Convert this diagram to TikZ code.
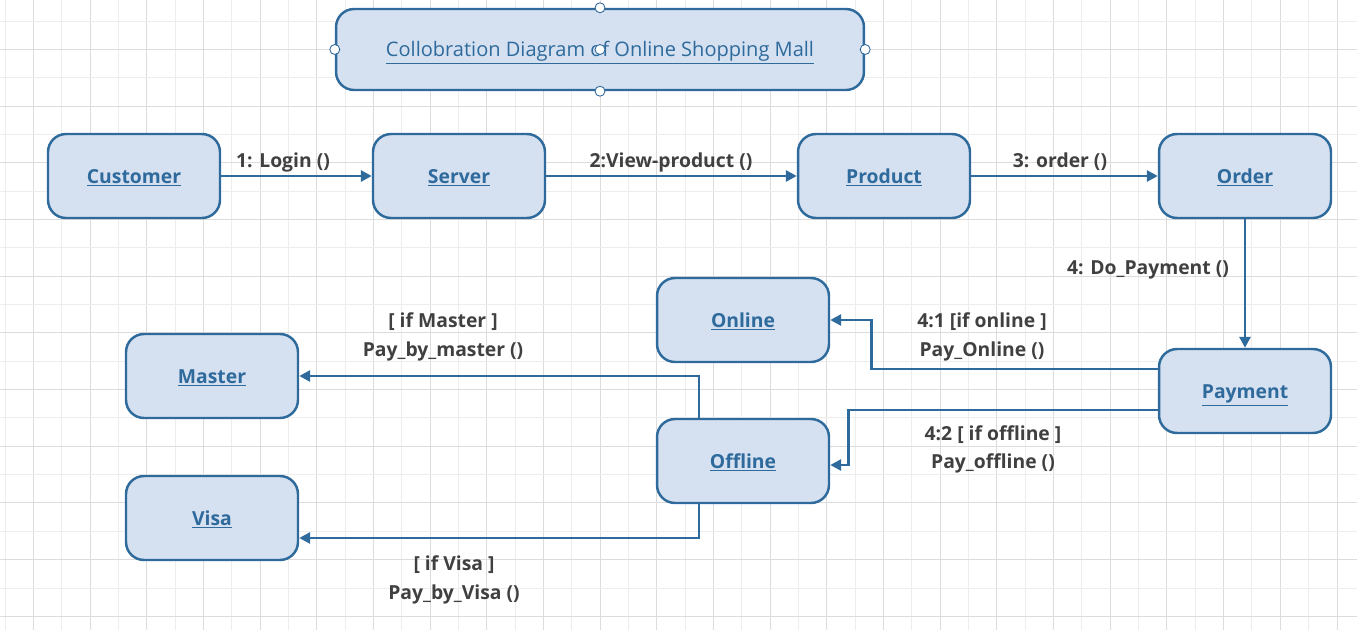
\documentclass[tikz,border=0pt]{standalone}
\usepackage{fontspec}
\setmainfont{Open Sans}
\usetikzlibrary{positioning, arrows.meta, calc}

\definecolor{umlblue}{HTML}{2E6A9C}
\definecolor{umlfill}{HTML}{D5E0F0}
\definecolor{msgtext}{HTML}{404040}
\definecolor{gridmajor}{HTML}{DCDCDC}
\definecolor{gridminor}{HTML}{EDEDED}

\begin{document}
\begin{tikzpicture}[x=0.02cm, y=-0.02cm,
    object/.style={rectangle, draw=umlblue, fill=umlfill, line width=1.4pt, rounded corners=0.36cm, minimum width=3.44cm, minimum height=1.68cm, text height=0.28cm, text depth=0pt, text=umlblue, font=\fontsize{11}{13}\selectfont\bfseries},
    titlebox/.style={rectangle, draw=umlblue, fill=umlfill, line width=1.4pt, rounded corners=0.36cm, minimum width=10.56cm, minimum height=1.62cm, text height=0.28cm, text depth=0pt, text=umlblue, font=\fontsize{11.4}{13}\selectfont},
    handle/.style={circle, draw=umlblue, fill=white, line width=0.5pt, minimum size=0.2cm, inner sep=0pt},
    msg/.style={align=center, text=msgtext, font=\fontsize{11}{16.4}\selectfont\bfseries},
    link/.style={draw=umlblue, line width=1.6pt, -{Triangle[length=0.22cm, width=0.22cm]}}
]

    % Grid
    \useasboundingbox (0,0) rectangle (1357,630);
    \foreach \i in {0,...,23} {
        \draw[gridminor, line width=0.5pt] (4.96+56.68*\i, 0) -- (4.96+56.68*\i, 630);
        \draw[gridmajor, line width=0.5pt] (33.3+56.68*\i, 0) -- (33.3+56.68*\i, 630);
    }
    \foreach \j in {0,...,10} {
        \draw[gridminor, line width=0.5pt] (0, 21+56.7*\j) -- (1357, 21+56.7*\j);
        \draw[gridmajor, line width=0.5pt] (0, 49.3+56.7*\j) -- (1357, 49.3+56.7*\j);
    }

    % Title
    \node[titlebox] (title) at (600, 49.5) {\underline{Collobration Diagram of Online Shopping Mall}};
    \node[handle] (htop) at (title.north) {};
    \node[handle] (hbottom) at (title.south) {};
    \node[handle] (hleft) at (title.west) {};
    \node[handle] (hright) at (title.east) {};
    \node[handle] (hcenter) at (title.center) {};

    % Objects
    \node[object] (customer) at (134, 176) {\underline{Customer}};
    \node[object] (server) at (459, 176) {\underline{Server}};
    \node[object] (product) at (884, 176) {\underline{Product}};
    \node[object] (order) at (1245, 176) {\underline{Order}};
    \node[object] (online) at (743, 320) {\underline{Online}};
    \node[object] (master) at (212, 376) {\underline{Master}};
    \node[object] (payment) at (1245, 391) {\underline{Payment}};
    \node[object] (offline) at (743, 461) {\underline{Offline}};
    \node[object] (visa) at (212, 518) {\underline{Visa}};

    % Links
    \draw[link] (customer) -- (server);
    \draw[link] (server) -- (product);
    \draw[link] (product) -- (order);
    \draw[link] (order) -- (payment);
    \draw[link] ([yshift=0.44cm]payment.west) -| ($(online.east)+(41,0)$) -- (online.east);
    \draw[link] ([yshift=-0.38cm]payment.west) -| ($(offline.east)+(18,4)$) -- ($(offline.east)+(0,4)$);
    \draw[link] ([xshift=-0.88cm]offline.north) |- (master.east);
    \draw[link] ([xshift=-0.88cm]offline.south) |- ([yshift=-0.4cm]visa.east);

    % Messages
    \node[msg] (mlogin) at (283, 162) {1: Login ()};
    \node[msg] (mview) at (671, 162) {2:View-product ()};
    \node[msg] (morder) at (1060, 162) {3: order ()};
    \node[msg] (mpay) at (1148, 270) {4: Do\_Payment ()};
    \node[msg] (monline) at (982, 337) {4:1 [if online ]\\Pay\_Online ()};
    \node[msg] (moffline) at (993, 449.5) {4:2 [ if offline ]\\Pay\_offline ()};
    \node[msg] (mmaster) at (443, 337) {[ if Master ]\\Pay\_by\_master ()};
    \node[msg] (mvisa) at (454, 580) {[ if Visa ]\\Pay\_by\_Visa ()};

\end{tikzpicture}
\end{document}
